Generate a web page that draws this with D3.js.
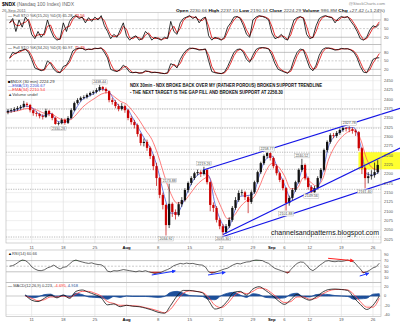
<!DOCTYPE html>
<html><head><meta charset="utf-8">
<script src="https://cdn.jsdelivr.net/npm/d3@7"></script>
<style>body{margin:0;background:#fff}svg{display:block}</style>
</head><body>
<svg id="chart" width="400" height="323"></svg>
<script>
// ---- NDX 30-minute bars, Jul 5 – Sep 26 2011, two sessions per trading day ----
const tradingDays = [
  "07-05","07-06","07-07","07-08",
  "07-11","07-12","07-13","07-14","07-15",
  "07-18","07-19","07-20","07-21","07-22",
  "07-25","07-26","07-27","07-28","07-29",
  "08-01","08-02","08-03","08-04","08-05",
  "08-08","08-09","08-10","08-11","08-12",
  "08-15","08-16","08-17","08-18","08-19",
  "08-22","08-23","08-24","08-25","08-26",
  "08-29","08-30","08-31","09-01","09-02",
  "09-06","09-07","09-08","09-09",
  "09-12","09-13","09-14","09-15","09-16",
  "09-19","09-20","09-21","09-22","09-23",
  "09-26"
];
const tickDays   = ["07-11","07-18","07-25","08-01","08-08","08-15","08-22","08-29","09-01","09-06","09-12","09-19","09-26"];
const tickLabels = ["11","18","25","Aug","8","15","22","29","Sep","6","12","19","26"];
const monthTicks = ["Aug","Sep"];

const firstOpen = 2365;
const closes = [
  2369,2371,2374,2377,2380,2388,2385,2371,
  2363,2361,2355,2353,2369,2361,2350,2334,2336,2345,
  2337,2350,2371,2390,2398,2404,2406,2412,2417,2420,
  2425,2433,2428,2422,2398,2393,2382,2374,2382,2371,
  2350,2339,2331,2307,2283,2286,2270,2248,2221,2189,
  2144,2117,2063,2120,2098,2090,2119,2130,2157,2176,
  2189,2202,2205,2200,2211,2178,2117,2109,2077,2060,
  2044,2060,2077,2109,2130,2149,2151,2138,2125,2151,
  2178,2205,2229,2248,2256,2243,2221,2202,2184,2162,
  2122,2136,2157,2178,2211,2224,2189,2165,
  2151,2162,2189,2211,2264,2286,2304,2302,2310,2318,
  2323,2322,2320,2316,2312,2269,2216,2189,2194,2197,
  2205,2224.29
];
const highs = [
  2374,2376,2379,2382,2385,2396,2392,2388,
  2374,2368,2364,2360,2375,2372,2364,2353,2340,2350,
  2349,2355,2376,2394,2403,2408,2411,2416,2421,2424,
  2430,2438.44,2436,2432,2424,2404,2398,2388,2390,2386,
  2374,2356,2345,2335,2310,2295,2292,2274,2252,2230,
  2192,2150,2120,2173.88,2124,2105,2125,2138,2162,2180,
  2194,2206,2212,2210,2219.26,2214,2180,2124,2114,2082,
  2066,2066,2084,2114,2138,2156,2158,2155,2142,2156,
  2182,2209,2233,2252,2258.77,2258,2247,2226,2206,2188,
  2165,2142,2162,2182,2215,2240.52,2228,2193,
  2170,2168,2194,2216,2268,2290,2309,2310,2315,2322,
  2326,2326,2327.78,2325,2320,2315,2272,2220,2205,2210,
  2230.66,2237.10
];
const lows = [
  2360,2364,2366,2369,2372,2376,2379,2365,
  2356,2354,2349,2346,2350,2355,2344,2332,2330.28,2333,
  2332,2334,2347,2368,2386,2394,2400,2402,2408,2412,
  2416,2421,2422,2416,2392,2386,2376,2368,2370,2364,
  2344,2332,2322,2300,2276,2274,2262,2240,2210,2168,
  2135,2105,2034.92,2055,2085,2078,2086,2112,2126,2150,
  2170,2184,2196,2192,2196,2172,2100,2098,2070,2052,
  2035.30,2040,2055,2072,2104,2125,2142,2130,2095,2120,
  2147,2174,2200,2224,2242,2236,2215,2196,2178,2156,
  2101.88,2115,2130,2152,2174,2206,2183,2158,
  2149.56,2150,2158,2185,2207,2258,2281,2296,2297,2305,
  2313,2314,2312,2308,2302,2262,2200,2161.40,2175,2185,
  2190.14,2200
];
// bars carrying a printed high / low value
const priceFlags = [[29,"high"],[16,"low"],[50,"low"],[51,"high"],[62,"high"],[68,"low"],
  [82,"high"],[88,"low"],[93,"high"],[96,"low"],[108,"high"],[113,"low"]];

// moving averages, one value per session boundary
const ema13 = [2368,2369,2374,2382,2378,2363,2356,2362,2342,2338,2346,2375,2399,2408,2417,2427,2424,2400,2380,2376,
  2350,2320,2290,2262,2210,2140,2095,2095,2125,2165,2193,2202,2196,2120,2072,2052,2095,2140,2142,2145,
  2195,2238,2248,2210,2172,2135,2170,2215,2170,2158,2200,2275,2302,2315,2325,2324,2280,2200,2197,2206.67];
const ema34 = [2365,2367,2370,2375,2376,2370,2363,2362,2352,2345,2345,2358,2378,2392,2403,2414,2418,2408,2395,2387,
  2368,2345,2318,2293,2250,2195,2148,2122,2126,2145,2168,2184,2192,2150,2110,2080,2088,2112,2128,2135,
  2165,2205,2228,2220,2195,2160,2162,2190,2180,2168,2185,2240,2275,2298,2312,2318,2295,2240,2215,2210.54];

// trend channel (day index, price)
const trendLines = [
  {t0:31.15, p0:2210.6, t1:62.29, p1:2376.0},
  {t0:34.27, p0:2037.7, t1:62.29, p1:2269.6},
  {t0:34.07, p0:2031.0, t1:62.29, p1:2188.3}
];
const levelLines = [2374, 2323, 2258.3, 2212.5, 2159, 2031];
const gapZone = {t0:55.7, t1:62.3, hi:2258.3, lo:2212.5};
const priceTicks = [2025,2050,2075,2100,2125,2150,2175,2200,2225,2250,2275,2300,2325,2350,2375,2400,2425,2450];

// stochastics, one value per session
const sto1K = [70,85,40,80,55,90,75,30, 15,40,20,35,80,45,20,10, 15,70,40,75,90,95,85,90,
  70,88,75,90,80,95,60,40, 15,30,20,45,70,25,10,20, 25,10,15,40,30,10,20,15,
  10,20,15,75,40,30,70,85, 90,95,85,92,70,85,90,25, 10,20,15,10,20,55,70,90,
  92,85,60,30,20,80,90,95, 92,88,80,35,15,20,30,15, 10,45,80,88,92,85,30,15,
  20,60,85,92,95,90,88,70, 85,92,88,92,75,60,40,15, 10,20,45,60,55,65.28];
const sto1D = [70,78,62,60,68,72,82,52, 22,28,30,28,58,62,32,15, 12,42,55,58,82,92,90,88,
  80,79,82,82,85,88,78,50, 28,22,25,32,58,48,18,15, 22,18,12,28,35,20,15,18,
  12,15,18,45,58,35,50,78, 88,92,90,88,80,78,88,58, 18,15,18,12,15,38,62,80,
  91,88,72,45,25,50,85,92, 93,90,84,58,25,18,25,22, 12,28,62,84,90,88,58,22,
  18,40,72,88,93,92,89,79, 78,88,90,90,84,68,50,28, 12,15,32,52,58,73.56];
const sto2K = [60,80,75,85,88,92,80,55, 25,20,15,20,50,40,20,10, 8,30,35,55,85,92,95,94,
  88,92,90,95,93,96,80,60, 20,15,12,20,35,25,10,8, 10,6,8,15,12,8,10,8,
  6,5,8,40,35,25,55,75, 88,95,94,92,88,90,92,50, 12,8,6,5,10,30,55,80,
  90,92,80,55,45,70,90,96, 97,95,92,70,40,20,15,10, 6,20,55,80,92,88,55,25,
  15,35,70,90,96,95,92,88, 90,94,92,93,88,80,60,30, 10,8,30,55,60,60.97];
const sto2D = [58,70,78,80,86,90,86,68, 40,22,18,17,35,45,30,15, 9,18,32,45,70,88,94,94,
  91,90,91,93,94,95,88,70, 40,18,14,16,28,30,18,9, 9,8,7,12,13,10,9,9,
  7,5,6,24,38,30,40,65, 82,92,95,93,90,89,91,70, 30,10,7,5,7,20,42,68,
  85,91,86,68,50,58,80,93, 96,96,93,82,55,30,18,12, 8,13,38,68,86,90,72,40,
  20,25,52,80,93,95,94,90, 89,92,93,92,90,84,70,45, 20,9,18,42,58,75.79];

// RSI(14), one value per session
const rsi14 = [50,52,58,66,72,70,62,48, 40,35,34,37,44,48,54,46,40,46,
  48,58,68,72,68,65,62,60,62,58, 56,55,48,32,30,34,33,35,38,36,
  34,32,30,33,31,34,30,27,24,26, 28,34,38,44,52,56,60,58,61,59,
  60,57,55,54,47,30,25,28,32,36, 40,43,50,56,60,58,62,65,66,70,
  72,71,70,64,60,50,42,38,34,30, 25,38,50,60,65,64,54,40,
  34,42,52,60,68,70,67,66,68,67, 69,72,68,65,52,40,26,30,36,44, 48,60.66];
const rsiArrows = [
  {t0:23.0, v0:18.6, t1:26.7, v1:32.9, color:"#1a33ff"},
  {t0:31.9, v0:18.6, t1:34.6, v1:28.2, color:"#1a33ff"},
  {t0:55.9, v0:15.0, t1:57.3, v1:24.6, color:"#1a33ff"},
  {t0:50.9, v0:78.2, t1:54.9, v1:69.6, color:"#ff2020"}
];

// MACD(12,26,9), one value per day close, starting with day 3
const macdStart = 3;
const macdLine = [2,-9,-12,-5,2,-4,2,-5,10,13,8,3,-4,-19,-17,-23,-20,-22,-23,-26,-30,-35,-37,-20,0,12,12,10,7,
  -10,-28,-24,-10,8,10,2,15,20,12,2,-10,-18,-8,4,-4,-9,-2,8,14,15,14,12,-4,-18,-29,-20,0.223];
const macdSignal = [0,-5,-10,-8,-2,-2,0,-3,4,10,10,6,0,-12,-16,-20,-20,-21,-22,-25,-28,-32,-36,-28,-10,6,11,10,8,
  -3,-20,-25,-16,0,8,5,10,17,15,6,-5,-14,-12,-2,-2,-7,-5,4,11,14,14,13,3,-12,-24,-24,-4.695];
const macdHist = [2,-4,-2,3,4,-2,2,-2,6,3,-2,-3,-4,-7,-1,-3,0,-1,-1,-1,-2,-3,-1,8,10,6,1,0,-1,
  -7,-8,1,6,8,2,-3,5,3,-3,-4,-5,-4,4,6,-2,-2,3,4,3,1,0,-1,-7,-6,-5,4,4.918];

// ---------------------------------------------------------------------------
const svg = d3.select("#chart");
const FONT = "'Liberation Sans', Arial, sans-serif";
const L = 6, R = 381;
const P = {sto1:[12.5,44.5], sto2:[44.5,75.5], main:[75.5,243], rsi:[250,282.5], macd:[282.5,316.5]};

const x = d3.scaleLinear().domain([0, tradingDays.length]).range([6.4, 379.3]);
const yP = d3.scaleLinear().domain([2015, 2462.6]).range([243, 76]);
const ySto1 = d3.scaleLinear().domain([0,100]).range([43, 14.2]);
const ySto2 = d3.scaleLinear().domain([0,100]).range([75, 46.7]);
const yR = d3.scaleLinear().domain([0,100]).range([280.2, 252.2]);
const yM = d3.scaleLinear().domain([-43, 28]).range([316, 283]);

const sessT = k => k/2 + 0.25;      // candle centre
const sampT = k => (k+1)/2;         // indicator sample at session end

const defs = svg.append("defs");
Object.entries(P).forEach(([k,[t,b]]) => {
  defs.append("clipPath").attr("id","clip-"+k).append("rect")
    .attr("x",L).attr("y",t).attr("width",R-L).attr("height",b-t);
});
defs.selectAll("marker").data(["#1a33ff","#ff2020"]).join("marker")
  .attr("id",(d,i)=>"arrow"+i).attr("viewBox","0 0 10 10").attr("refX",8).attr("refY",5)
  .attr("markerWidth",4).attr("markerHeight",4).attr("orient","auto")
  .append("path").attr("d","M0,0L10,5L0,10z").attr("fill",d=>d);

function text(g, px, py, str, o={}) {
  const t = g.append("text").attr("x",px).attr("y",py).text(str)
    .attr("font-family",FONT).attr("font-size",o.size||4)
    .attr("fill",o.fill||"#333").attr("font-weight",o.weight||"normal")
    .attr("text-anchor",o.anchor||"start");
  if (o.len) t.attr("textLength",o.len).attr("lengthAdjust","spacingAndGlyphs");
  return t;
}
const tickIdx = tickDays.map(d => tradingDays.indexOf(d));

// vertical date grid in every panel
function vGrid(key) {
  const [t,b] = P[key];
  svg.append("g").selectAll("line").data(tickIdx).join("line")
    .attr("x1",d=>x(d)).attr("x2",d=>x(d)).attr("y1",t).attr("y2",b)
    .attr("stroke","#dcdcdc").attr("stroke-width",0.6);
}
function frame(key) {
  const [t,b] = P[key];
  svg.append("rect").attr("x",L).attr("y",t).attr("width",R-L).attr("height",b-t)
    .attr("fill","none").attr("stroke","#b4b4b4").attr("stroke-width",0.6);
}
function dateRow(py) {
  const g = svg.append("g");
  tickIdx.forEach((d,i) => {
    const isMonth = monthTicks.includes(tickLabels[i]);
    text(g, x(d), py, tickLabels[i], {anchor:"middle", size:4.2, fill:isMonth?"#000":"#555", weight:isMonth?"bold":"normal"});
  });
}

// ---------- header ----------
const hdr = svg.append("g");
const t1 = text(hdr, 2, 6.3, "", {size:5, fill:"#666"});
t1.append("tspan").text("$NDX").attr("font-weight","bold").attr("fill","#000");
t1.append("tspan").text(" (Nasdaq 100 Index) INDX");
text(hdr, 2, 11.6, "26-Sep-2011", {size:4.2, fill:"#666"});
text(hdr, 385, 5.2, "@StockCharts.com", {size:4.2, fill:"#888", anchor:"end"});
const stats = [["Open","2230.66"],["High","2237.10"],["Low","2190.14"],["Close","2224.29"],["Volume","986.8M"],["Chg","+27.42 (+1.24%)"]];
const t2 = text(hdr, 176, 11.6, "", {size:4.2, fill:"#444", len:209});
stats.forEach(([k,v],i) => {
  t2.append("tspan").text(k+" ").attr("font-weight","bold").attr("fill","#000");
  t2.append("tspan").text(v + (i<stats.length-1?" ":""));
});

// ---------- stochastic panels ----------
function stoPanel(key, y, K, D, title, vals) {
  vGrid(key);
  const g = svg.append("g");
  [80,20].forEach(v => g.append("line").attr("x1",L).attr("x2",R).attr("y1",y(v)).attr("y2",y(v)).attr("stroke","#9a9a9a").attr("stroke-width",0.6));
  g.append("line").attr("x1",L).attr("x2",R).attr("y1",y(50)).attr("y2",y(50)).attr("stroke","#aaa").attr("stroke-width",0.6).attr("stroke-dasharray","2,1.5");
  const cg = svg.append("g").attr("clip-path",`url(#clip-${key})`);
  const ln = d3.line().x((d,i)=>x(sampT(i))).y(d=>y(d));
  cg.append("path").attr("d",ln(D)).attr("fill","none").attr("stroke","#e00000").attr("stroke-width",0.8);
  cg.append("path").attr("d",ln(K)).attr("fill","none").attr("stroke","#000").attr("stroke-width",0.8);
  [80,50,20].forEach(v => text(g, 384, y(v)+1.4, String(v), {size:4, fill:"#555"}));
  const tt = text(g, 8, P[key][0]+4.2, "", {size:4, fill:"#444"});
  tt.append("tspan").text("— ").attr("fill","#000");
  tt.append("tspan").text(title + " " + vals[0] + ", ");
  tt.append("tspan").text(vals[1]).attr("fill","#e00000");
  frame(key);
}
stoPanel("sto1", ySto1, sto1K, sto1D, "Full STO %K(15,20) %D(3)", ["65.28","73.56"]);
stoPanel("sto2", ySto2, sto2K, sto2D, "Full STO %K(34,20) %D(3)", ["60.97","75.79"]);

// ---------- price panel ----------
vGrid("main");
const gm = svg.append("g");
gm.selectAll("line.h").data(priceTicks).join("line")
  .attr("x1",L).attr("x2",R).attr("y1",d=>yP(d)).attr("y2",d=>yP(d))
  .attr("stroke","#e4e4e4").attr("stroke-width",0.6);
gm.selectAll("line.lvl").data(levelLines).join("line")
  .attr("x1",L).attr("x2",R).attr("y1",d=>yP(d)).attr("y2",d=>yP(d))
  .attr("stroke","#8c8c8c").attr("stroke-width",0.6).attr("stroke-dasharray","1.2,1.2");

// gap-fill zone
gm.append("rect").attr("x",x(gapZone.t0)).attr("y",yP(gapZone.hi))
  .attr("width",x(gapZone.t1)-x(gapZone.t0)).attr("height",yP(gapZone.lo)-yP(gapZone.hi))
  .attr("fill","#ffff1a").attr("opacity",0.9);

const cm = svg.append("g").attr("clip-path","url(#clip-main)");
const lineMA = d3.line().x((d,i)=>x(i)).y(d=>yP(d)).curve(d3.curveMonotoneX);
cm.append("path").attr("d",lineMA(ema34)).attr("fill","none").attr("stroke","#ff5a5a").attr("stroke-width",0.8);
cm.append("path").attr("d",lineMA(ema13)).attr("fill","none").attr("stroke","#4a5ad6").attr("stroke-width",0.8);

const bars = closes.map((c,k)=>({k, o: k ? closes[k-1] : firstOpen, c, h: highs[k], l: lows[k]}));
const cw = (x(0.5)-x(0))*0.72;
cm.selectAll("line.wick").data(bars).join("line")
  .attr("x1",d=>x(sessT(d.k))).attr("x2",d=>x(sessT(d.k)))
  .attr("y1",d=>yP(Math.max(d.h,d.o,d.c))).attr("y2",d=>yP(Math.min(d.l,d.o,d.c)))
  .attr("stroke",d=>d.c>=d.o?"#000":"#c00000").attr("stroke-width",0.7);
cm.selectAll("rect.body").data(bars).join("rect")
  .attr("x",d=>x(sessT(d.k))-cw/2).attr("width",cw)
  .attr("y",d=>yP(Math.max(d.o,d.c)))
  .attr("height",d=>Math.max(0.8, Math.abs(yP(d.o)-yP(d.c))))
  .attr("fill",d=>d.c>=d.o?"#111":"#cc0000");

// trend channel lines run across the price scale
svg.append("g").selectAll("line").data(trendLines).join("line")
  .attr("x1",d=>x(d.t0)).attr("y1",d=>yP(d.p0)).attr("x2",d=>x(d.t1)).attr("y2",d=>yP(d.p1))
  .attr("stroke","#1414e6").attr("stroke-width",1.2);

// printed highs and lows
const gl = svg.append("g");
priceFlags.forEach(([k,kind]) => {
  const v = kind==="high" ? highs[k] : lows[k];
  const cx = x(sessT(k));
  const by = kind==="high" ? yP(v)-5.2 : yP(v)+1.2;
  gl.append("rect").attr("x",cx-7.5).attr("y",by).attr("width",15).attr("height",4.2)
    .attr("fill","#fff").attr("stroke","#aaa").attr("stroke-width",0.4);
  text(gl, cx, by+3.3, v.toFixed(2), {size:3.6, fill:"#444", anchor:"middle"});
});

// price scale
const ga = svg.append("g");
priceTicks.forEach(v => text(ga, 384, yP(v)+1.4, String(v), {size:4, fill:"#555"}));

// legend
const lg = svg.append("g");
const l1 = text(lg, 8, 83, "", {size:4.2, fill:"#333"});
l1.append("tspan").text("■").attr("fill","#000");
l1.append("tspan").text("$NDX (30 min) 2224.29");
text(lg, 8, 87.2, "—EMA(13) 2206.67", {size:4.2, fill:"#3a4acc"});
text(lg, 8, 91.4, "—EMA(34) 2210.54", {size:4.2, fill:"#ff3030"});
text(lg, 8, 95.6, "▲Volume undef", {size:4.2, fill:"#444"});

// commentary
text(lg, 130, 87.3, "NDX 30min - NDX BROKE BACK OVER MY (RATHER POROUS) BROKEN SUPPORT TRENDLINE", {size:4.6, weight:"bold", fill:"#111", len:192});
text(lg, 130, 93.8, "- THE NEXT TARGET IS THE GAP FILL AND BROKEN SUPPORT AT 2258.30", {size:4.6, weight:"bold", fill:"#111", len:153});
text(lg, 271, 234.8, "channelsandpatterns.blogspot.com", {size:6.8, fill:"#111", len:108});
frame("main");
dateRow(248.6);

// ---------- RSI ----------
vGrid("rsi");
const gr = svg.append("g");
[70,30].forEach(v => gr.append("line").attr("x1",L).attr("x2",R).attr("y1",yR(v)).attr("y2",yR(v)).attr("stroke","#9a9a9a").attr("stroke-width",0.6));
gr.append("line").attr("x1",L).attr("x2",R).attr("y1",yR(50)).attr("y2",yR(50)).attr("stroke","#aaa").attr("stroke-width",0.6).attr("stroke-dasharray","2,1.5");
const cr = svg.append("g").attr("clip-path","url(#clip-rsi)");
const rx = (d,i) => x(sampT(i));
cr.append("path").attr("d", d3.area().x(rx).y0(yR(70)).y1(d=>yR(Math.max(d,70)))(rsi14)).attr("fill","#2f8f2f");
cr.append("path").attr("d", d3.area().x(rx).y0(yR(30)).y1(d=>yR(Math.min(d,30)))(rsi14)).attr("fill","#e03030");
cr.append("path").attr("d", d3.line().x(rx).y(d=>yR(d))(rsi14)).attr("fill","none").attr("stroke","#222").attr("stroke-width",0.7);
svg.append("g").selectAll("line").data(rsiArrows).join("line")
  .attr("x1",d=>x(d.t0)).attr("y1",d=>yR(d.v0)).attr("x2",d=>x(d.t1)).attr("y2",d=>yR(d.v1))
  .attr("stroke",d=>d.color).attr("stroke-width",1)
  .attr("marker-end",d=>d.color==="#ff2020"?"url(#arrow1)":"url(#arrow0)");
[90,70,50,30,10].forEach(v => text(gr, 384, yR(v)+1.4, String(v), {size:4, fill:"#555"}));
const rt = text(gr, 8, 254.6, "", {size:4, fill:"#444"});
rt.append("tspan").text("▲").attr("fill","#000");
rt.append("tspan").text("RSI(14) 60.66");
frame("rsi");

// ---------- MACD ----------
vGrid("macd");
const gM = svg.append("g");
gM.append("line").attr("x1",L).attr("x2",R).attr("y1",yM(0)).attr("y2",yM(0)).attr("stroke","#aaa").attr("stroke-width",0.6);
[20,-20,-40].forEach(v => gM.append("line").attr("x1",L).attr("x2",R).attr("y1",yM(v)).attr("y2",yM(v)).attr("stroke","#e4e4e4").attr("stroke-width",0.6));
const cM = svg.append("g").attr("clip-path","url(#clip-macd)");
const mx = (d,i) => x(macdStart + i);
cM.append("path").attr("d", d3.area().x(mx).y0(yM(0)).y1(d=>yM(d)).curve(d3.curveMonotoneX)(macdHist))
  .attr("fill","#1d4f9a").attr("stroke","#1d4f9a").attr("stroke-width",0.8);
cM.append("path").attr("d", d3.line().x(mx).y(d=>yM(d)).curve(d3.curveMonotoneX)(macdSignal))
  .attr("fill","none").attr("stroke","#ff4040").attr("stroke-width",0.8);
cM.append("path").attr("d", d3.line().x(mx).y(d=>yM(d)).curve(d3.curveMonotoneX)(macdLine))
  .attr("fill","none").attr("stroke","#111").attr("stroke-width",0.8);
[20,0,-20,-40].forEach(v => text(gM, 384, yM(v)+1.4, String(v), {size:4, fill:"#555"}));
const mt = text(gM, 8, 287, "", {size:4, fill:"#444"});
mt.append("tspan").text("— ").attr("fill","#000");
mt.append("tspan").text("MACD(12,26,9) 0.223, ");
mt.append("tspan").text("-4.695, ").attr("fill","#ff3030");
mt.append("tspan").text("4.918").attr("fill","#1d4f9a");
frame("macd");
dateRow(321);
</script>
</body></html>
